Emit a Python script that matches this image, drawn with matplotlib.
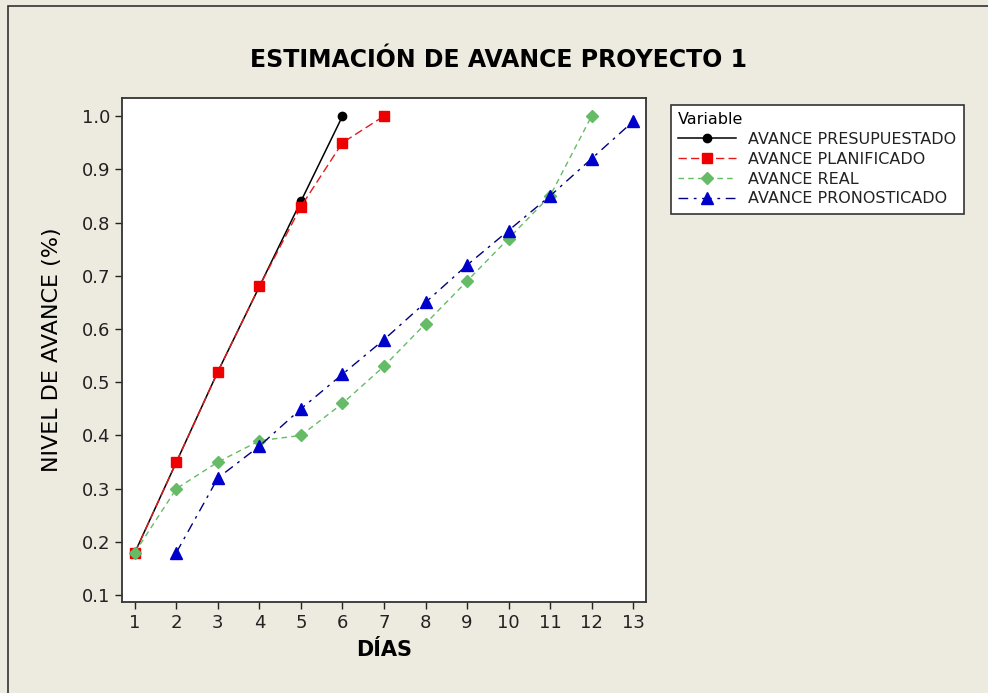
import matplotlib
matplotlib.use("Agg")
import matplotlib.pyplot as plt
from matplotlib.patches import Rectangle

plt.rcParams['font.family'] = ['DejaVu Sans']

dias_presup = [1, 2, 3, 4, 5, 6]
avance_presup = [0.18, 0.35, 0.52, 0.68, 0.84, 1.0]

dias_plan = [1, 2, 3, 4, 5, 6, 7]
avance_plan = [0.18, 0.35, 0.52, 0.68, 0.83, 0.95, 1.0]

dias_real = [1, 2, 3, 4, 5, 6, 7, 8, 9, 10, 11, 12]
avance_real = [0.18, 0.30, 0.35, 0.39, 0.40, 0.46, 0.53, 0.61, 0.69, 0.77, 0.85, 1.0]

dias_pron = [2, 3, 4, 5, 6, 7, 8, 9, 10, 11, 12, 13]
avance_pron = [0.18, 0.32, 0.38, 0.45, 0.515, 0.58, 0.65, 0.72, 0.785, 0.85, 0.92, 0.99]

x_ticks = list(range(1, 14))
y_ticks = [0.1, 0.2, 0.3, 0.4, 0.5, 0.6, 0.7, 0.8, 0.9, 1.0]

bg = '#EDEAE0'
fig = plt.figure(figsize=(9.88, 6.93), dpi=100, facecolor=bg)
fig.patches.append(Rectangle((0.008, -0.01), 1.2, 1.001, transform=fig.transFigure,
                             fill=False, edgecolor='#333333', linewidth=1.2))

ax = fig.add_axes([122/988, 1 - 602/693, (646-122)/988, (602-98)/693])
ax.set_facecolor('white')

ax.plot(dias_presup, avance_presup, color='black', linestyle='-', linewidth=1.1,
        marker='o', markersize=6, label='AVANCE PRESUPUESTADO')
ax.plot(dias_plan, avance_plan, color='#E41A1C', linestyle=(0, (6, 3)), linewidth=1.0,
        marker='s', markersize=6.5, markerfacecolor='#EE0000', markeredgecolor='#EE0000',
        label='AVANCE PLANIFICADO')
ax.plot(dias_real, avance_real, color='#66BB66', linestyle=(0, (4, 3)), linewidth=1.0,
        marker='D', markersize=6, markerfacecolor='#66BB66', markeredgecolor='#66BB66',
        label='AVANCE REAL')
ax.plot(dias_pron, avance_pron, color='#000080', linestyle=(0, (7, 4, 2, 4)), linewidth=1.0,
        marker='^', markersize=8, markerfacecolor='#0000CC', markeredgecolor='#0000CC',
        label='AVANCE PRONOSTICADO')

ax.set_xlim(0.69, 13.31)
ax.set_ylim(0.087, 1.034)
ax.set_xticks(x_ticks)
ax.set_xticklabels([str(v) for v in x_ticks])
ax.set_yticks(y_ticks)
ax.set_yticklabels([f'{v:.1f}' for v in y_ticks])
ax.tick_params(labelsize=13, length=5, width=1, color='#222222', labelcolor='#222222')
for s in ax.spines.values():
    s.set_linewidth(1.3)
    s.set_color('#333333')

ax.set_xlabel('DÍAS', fontsize=15, fontweight='bold', labelpad=6)
ax.set_ylabel('NIVEL DE AVANCE (%)', fontsize=16, labelpad=14)

fig.text(498/988, 1 - 60/693, 'ESTIMACIÓN DE AVANCE PROYECTO 1', ha='center', va='center',
         fontsize=17, fontweight='bold', family=['Liberation Sans Narrow', 'DejaVu Sans'])

leg = fig.legend(loc='upper left', bbox_to_anchor=(663/988, 1 - 97/693),
                 title='Variable', fontsize=11.5, title_fontsize=11.5, frameon=True,
                 fancybox=False, edgecolor='#333333', borderpad=0.45, labelspacing=0.3,
                 handlelength=3.6, handletextpad=0.8, alignment='left')
leg.get_frame().set_linewidth(1.2)
leg.get_frame().set_facecolor('white')
leg.get_frame().set_alpha(1.0)
for t in leg.get_texts():
    t.set_color('#222222')

fig.savefig('out.png', dpi=100, facecolor=bg)
